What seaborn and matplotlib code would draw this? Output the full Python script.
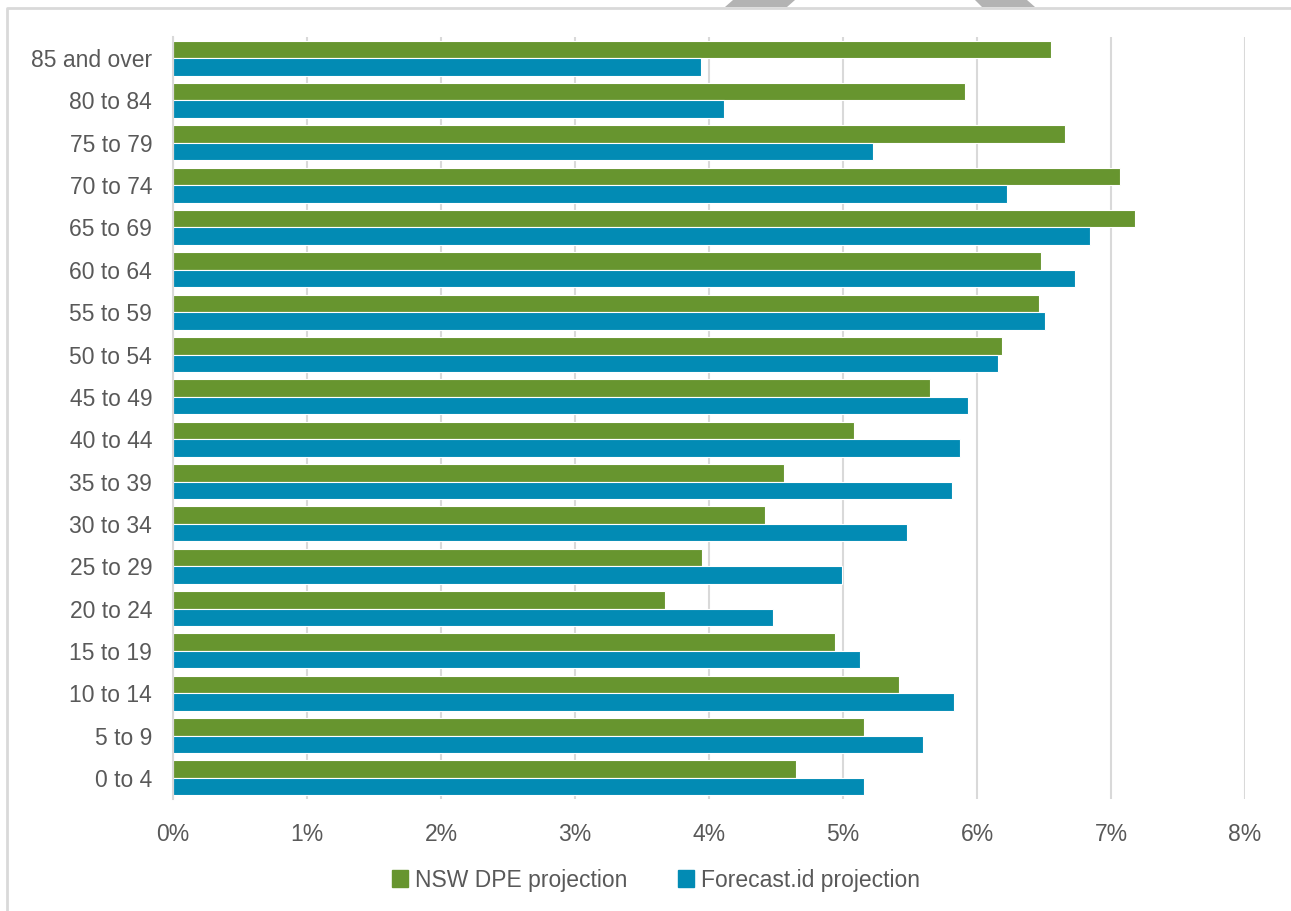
import pandas as pd
import seaborn as sns
from matplotlib import pyplot as plt
from matplotlib.patches import Polygon
from matplotlib.lines import Line2D
from matplotlib.ticker import PercentFormatter

# Age groups, top to bottom as in the chart
age_groups = ['85 and over', '80 to 84', '75 to 79', '70 to 74', '65 to 69',
              '60 to 64', '55 to 59', '50 to 54', '45 to 49', '40 to 44',
              '35 to 39', '30 to 34', '25 to 29', '20 to 24', '15 to 19',
              '10 to 14', '5 to 9', '0 to 4']

# Share of population (%)
nsw_dpe = [6.55, 5.91, 6.66, 7.07, 7.18, 6.48, 6.46, 6.19, 5.65, 5.08,
           4.56, 4.42, 3.95, 3.67, 4.94, 5.42, 5.16, 4.65]
forecast_id = [3.94, 4.11, 5.22, 6.22, 6.84, 6.73, 6.51, 6.16, 5.93, 5.87,
               5.81, 5.48, 4.99, 4.48, 5.13, 5.83, 5.60, 5.16]

series_names = ['NSW DPE projection', 'Forecast.id projection']
series_colors = ['#67952f', '#028bb4']
x_ticks = [0, 1, 2, 3, 4, 5, 6, 7, 8]

# Build a long table for seaborn
df = pd.DataFrame({
    'age': age_groups * 2,
    'share': nsw_dpe + forecast_id,
    'series': [series_names[0]] * len(age_groups) + [series_names[1]] * len(age_groups),
})

text_color = '#595959'
grid_color = '#d9d9d9'

plt.rcParams['font.family'] = ['Liberation Sans', 'DejaVu Sans']

fig = plt.figure(figsize=(12.91, 9.11), dpi=100)
ax = fig.add_axes([0.134, 0.1229, 0.8304, 0.8365])

sns.barplot(data=df, x='share', y='age', hue='series', order=age_groups,
            hue_order=series_names, palette=series_colors, orient='h',
            saturation=1, width=0.83, edgecolor='white', linewidth=0.8, ax=ax)

# Axes styling
ax.set_xlim(0, 8)
ax.set_xticks(x_ticks)
ax.xaxis.set_major_formatter(PercentFormatter(decimals=0))
ax.set_xlabel('')
ax.set_ylabel('')
ax.xaxis.grid(True, color=grid_color, linewidth=1.5)
ax.set_axisbelow(True)
for side in ['top', 'right', 'bottom']:
    ax.spines[side].set_visible(False)
ax.spines['left'].set_color(grid_color)
ax.spines['left'].set_linewidth(1.5)
ax.tick_params(axis='both', length=0, labelsize=16.5, labelcolor=text_color)
ax.tick_params(axis='x', pad=17)
ax.tick_params(axis='y', pad=15)

# Legend at the bottom
ax.get_legend().remove()
handles = [plt.Rectangle((0, 0), 1, 1, color=c) for c in series_colors]
fig.legend(handles, series_names, loc='center', bbox_to_anchor=(0.508, 0.034),
           ncol=2, frameon=False, fontsize=16.5, labelcolor=text_color,
           handlelength=0.7, handleheight=0.7, handletextpad=0.3,
           columnspacing=2.2)

# Chart border and the grey marks at the top edge (pixel coords)
W, H = 1291, 911
def px(x, y):
    return (x / W, 1 - y / H)

fig.add_artist(Line2D([px(7, 0)[0], px(7, 0)[0], 1], [0, px(0, 8)[1], px(0, 8)[1]],
                      color=grid_color, linewidth=2, transform=fig.transFigure))
for pts in ([(733, 0), (795, 0), (787, 7), (725, 7)],
            [(975, 0), (1027, 0), (1035, 7), (982, 7)]):
    fig.add_artist(Polygon([px(*p) for p in pts], closed=True, facecolor='#b3b3b3',
                           edgecolor='none', transform=fig.transFigure))

plt.savefig('out.png', dpi=100)
plt.close()
